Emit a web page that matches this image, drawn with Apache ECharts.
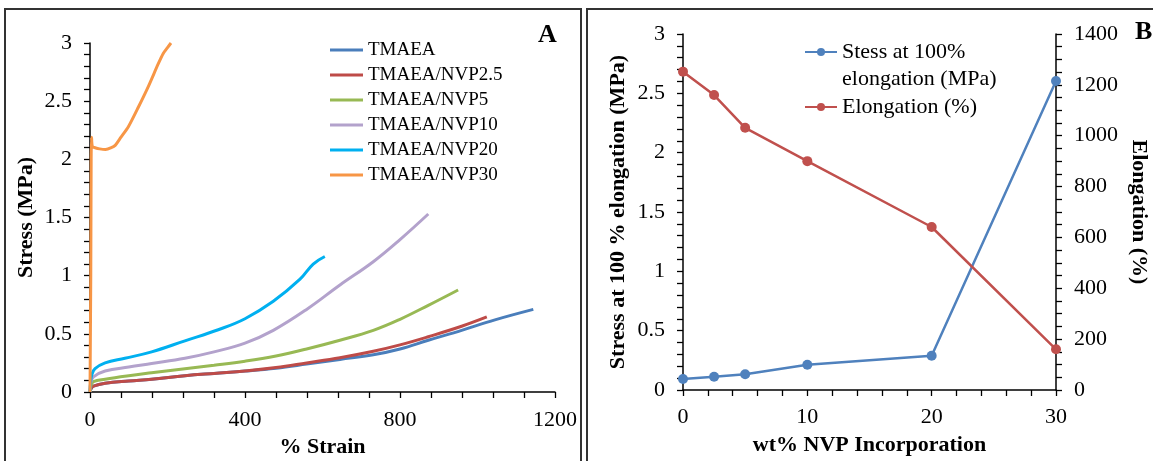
<!DOCTYPE html>
<html>
<head>
<meta charset="utf-8">
<script src="https://cdn.jsdelivr.net/npm/echarts@6/dist/echarts.min.js"></script>
<style>
html,body{margin:0;padding:0;background:#fff;}
#chart{width:1153px;height:461px;}
</style>
</head>
<body>
<div id="chart"></div>
<script>
// ---------- Panel A: stress-strain curves ----------
const seriesNamesA = ['TMAEA','TMAEA/NVP2.5','TMAEA/NVP5','TMAEA/NVP10','TMAEA/NVP20','TMAEA/NVP30'];

const strainTMAEA = [0,3,9,39,100,159,245,320,400,480,559,645,731,800,873,959,1045,1144];
const stressTMAEA = [0,0.03,0.05,0.075,0.095,0.11,0.14,0.16,0.18,0.205,0.24,0.28,0.32,0.37,0.445,0.53,0.62,0.71];

const strainNVP25 = [0,3,9,39,100,159,245,320,400,480,559,645,731,800,873,959,1024];
const stressNVP25 = [0,0.03,0.05,0.075,0.095,0.11,0.14,0.16,0.18,0.21,0.25,0.295,0.35,0.405,0.475,0.565,0.645];

const strainNVP5 = [0,3,9,39,100,159,245,320,400,480,559,645,731,800,873,950];
const stressNVP5 = [0,0.06,0.09,0.11,0.14,0.165,0.20,0.23,0.265,0.31,0.37,0.445,0.53,0.625,0.745,0.877];

const strainNVP10 = [0,2,9,39,100,159,245,320,400,473,559,645,731,800,873];
const stressNVP10 = [0,0.08,0.13,0.18,0.215,0.245,0.29,0.345,0.42,0.53,0.71,0.92,1.12,1.31,1.53];

const strainNVP20 = [0,2,5,13,39,90,159,245,331,400,473,542,576,606];
const stressNVP20 = [0,0.1,0.15,0.20,0.25,0.29,0.345,0.44,0.535,0.63,0.78,0.97,1.10,1.165];

const strainNVP30 = [0,2,3,4,6,13,25,40,55,65,80,99,125,151,176,189,200,209];
const stressNVP30 = [0,1.0,2.0,2.19,2.11,2.10,2.09,2.085,2.10,2.12,2.19,2.28,2.45,2.63,2.82,2.91,2.96,3.0];

const colorsA = ['#4A7EBB','#BE4B48','#98B954','#B3A2CC','#00B0F0','#F79646'];

const xTicksA = {min:0, max:1200, interval:400};
const yTicksA = {min:0, max:3, interval:0.5};

// ---------- Panel B: properties vs NVP content ----------
const nvpContent = [0,2.5,5,10,20,30];
const stressAt100 = [0.093,0.112,0.132,0.213,0.289,2.604];
const elongation = [1252,1160,1031,900,641,160];
const seriesNamesB = ['Stess at 100%\nelongation (MPa)','Elongation (%)'];
const colorsB = ['#4F81BD','#C0504D'];

const xTicksB = {min:0, max:30, interval:10};
const yLeftTicksB = {min:0, max:3, interval:0.5};
const yRightTicksB = {min:0, max:1400, interval:200};

// ---------- helpers ----------
const FONT = '"Liberation Serif","Times New Roman",serif';
function zip(a,b){return a.map((v,i)=>[v,b[i]]);}
function plain(v){return String(v);}

function axisCommon(extra){
  return Object.assign({
    type:'value',
    splitLine:{show:false},
    axisLine:{show:true,onZero:false,lineStyle:{color:'#000',width:1.5}},
    axisTick:{show:true,inside:false,length:6,lineStyle:{color:'#000',width:1.3}},
    minorTick:{show:true,splitNumber:5,length:6,lineStyle:{color:'#000',width:1.3}},
    nameLocation:'middle',
    nameTextStyle:{color:'#000',fontFamily:FONT,fontSize:22,fontWeight:'bold'}
  }, extra);
}
function labelStyle(margin){
  return {color:'#000',fontFamily:FONT,fontSize:22,margin:margin,formatter:plain};
}

const dataA = [
  zip(strainTMAEA,stressTMAEA),
  zip(strainNVP25,stressNVP25),
  zip(strainNVP5,stressNVP5),
  zip(strainNVP10,stressNVP10),
  zip(strainNVP20,stressNVP20),
  zip(strainNVP30,stressNVP30)
];

const seriesA = dataA.map((d,i)=>({
  name:seriesNamesA[i],
  type:'line',
  xAxisIndex:0, yAxisIndex:0,
  data:d,
  showSymbol:false,
  symbol:'none',
  smooth:i===5 ? 0.25 : 0.4,
  lineStyle:{color:colorsA[i],width:3},
  itemStyle:{color:colorsA[i]},
  animation:false
}));

const seriesB = [
  {
    name:seriesNamesB[0], type:'line', xAxisIndex:1, yAxisIndex:1,
    data:zip(nvpContent,stressAt100),
    symbol:'circle', symbolSize:10,
    lineStyle:{color:colorsB[0],width:2.5},
    itemStyle:{color:colorsB[0]},
    animation:false
  },
  {
    name:seriesNamesB[1], type:'line', xAxisIndex:1, yAxisIndex:2,
    data:zip(nvpContent,elongation),
    symbol:'circle', symbolSize:10,
    lineStyle:{color:colorsB[1],width:2.5},
    itemStyle:{color:colorsB[1]},
    animation:false
  }
];

const chart = echarts.init(document.getElementById('chart'), null, {renderer:'canvas'});
chart.setOption({
  backgroundColor:'#fff',
  animation:false,
  grid:[
    {left:90, top:43, width:465, height:349, containLabel:false, outerBoundsMode:'none'},
    {left:683, top:34, width:373, height:356, containLabel:false, outerBoundsMode:'none'}
  ],
  xAxis:[
    axisCommon(Object.assign({gridIndex:0, name:'% Strain', nameGap:43, axisLabel:labelStyle(17)}, xTicksA)),
    axisCommon(Object.assign({gridIndex:1, name:'wt% NVP Incorporation', nameGap:44, axisLabel:labelStyle(16)}, xTicksB))
  ],
  yAxis:[
    axisCommon(Object.assign({gridIndex:0, name:'Stress (MPa)', nameGap:53, axisLabel:labelStyle(18)}, yTicksA)),
    axisCommon(Object.assign({gridIndex:1, name:'Stress at 100 % elongation (MPa)', nameGap:54, axisLabel:labelStyle(18)}, yLeftTicksB)),
    axisCommon(Object.assign({gridIndex:1, position:'right', name:'Elongation (%)', nameGap:72, nameRotate:-90,
      minorTick:{show:true,splitNumber:4,length:6,lineStyle:{color:'#000',width:1.3}},
      axisLabel:labelStyle(18)}, yRightTicksB))
  ],
  legend:[
    {
      data:seriesNamesA,
      orient:'vertical',
      left:330, top:40,
      padding:0,
      icon:'rect',
      itemWidth:33, itemHeight:3,
      itemGap:5,
      textStyle:{color:'#000',fontFamily:FONT,fontSize:19,lineHeight:20}
    },
    {
      data:[seriesNamesB[0]],
      orient:'vertical',
      left:804, top:11.5,
      padding:0,
      itemWidth:32, itemHeight:10,
      formatter:function(n){return '\n'+n;},
      textStyle:{color:'#000',fontFamily:FONT,fontSize:22,lineHeight:27}
    },
    {
      data:[seriesNamesB[1]],
      orient:'vertical',
      left:804, top:93.5,
      padding:0,
      itemWidth:32, itemHeight:10,
      textStyle:{color:'#000',fontFamily:FONT,fontSize:22,lineHeight:27}
    }
  ],
  graphic:[
    {type:'rect', shape:{x:5,y:9,width:576,height:520}, style:{fill:'none',stroke:'#333',lineWidth:2}, silent:true},
    {type:'rect', shape:{x:587,y:9,width:620,height:520}, style:{fill:'none',stroke:'#333',lineWidth:2}, silent:true},
    {type:'text', left:538, top:22, style:{text:'A',font:'bold 26px '+FONT,fill:'#000'}},
    {type:'text', left:1135, top:19, style:{text:'B',font:'bold 26px '+FONT,fill:'#000'}}
  ],
  series:seriesA.concat(seriesB)
});
</script>
</body>
</html>
